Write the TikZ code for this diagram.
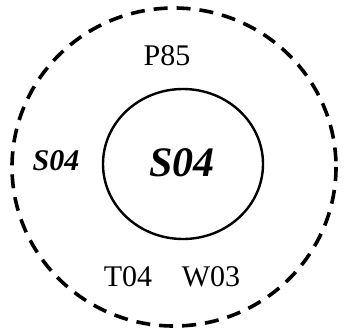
\documentclass[tikz,border=0pt]{standalone}
\usepackage{fontspec}
\setmainfont{Liberation Serif}
\begin{document}
\begin{tikzpicture}[x=1pt,y=-1pt,
  lbl/.style={inner sep=0pt,font=\fontsize{30}{30}\selectfont},
  lblbi/.style={inner sep=0pt,font=\fontsize{30}{30}\selectfont\bfseries\itshape},
  bigbi/.style={inner sep=0pt,font=\fontsize{42}{42}\selectfont\bfseries\itshape},
  outerring/.style={draw,line width=3.6pt,dash pattern=on 14pt off 9pt},
  innerring/.style={draw,line width=2.4pt}]
\useasboundingbox (0,0) rectangle (344,332);
\draw[outerring] (174,167) ellipse [x radius=162, y radius=159];
\draw[innerring] (183,164) ellipse [x radius=80, y radius=75];
\node[lbl] (p85) at (167,56) {P85};
\node[lblbi] (s04a) at (56,161) {S04};
\node[bigbi] (s04b) at (182,163) {S04};
\node[lbl] (t04) at (128,277) {T04};
\node[lbl] (w03) at (211,277) {W03};
\end{tikzpicture}
\end{document}
